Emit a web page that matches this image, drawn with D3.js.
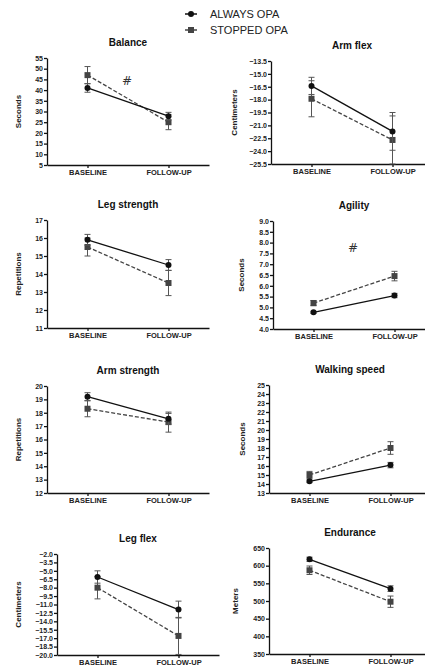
<!DOCTYPE html>
<html lang="en">
<head>
<meta charset="utf-8">
<title>OPA panels</title>
<script src="https://d3js.org/d3.v7.min.js"></script>
<style>
  body { margin: 0; background: #fff; }
  svg text { font-family: "Liberation Sans", Arial, sans-serif; fill: #111; }
  .axis path, .axis line { stroke: #111; stroke-width: 1.3; }
  .axis text { font-size: 7px; font-weight: bold; fill: #222; }
  .xaxis text { font-size: 7.5px; }
  .hash { font-family: "DejaVu Sans", sans-serif; fill: #333; }
</style>
</head>
<body>
<div id="chart"></div>
<script>
"use strict"

// ---- dados ----
const categories = ["BASELINE", "FOLLOW-UP"];
const groups = ["ALWAYS OPA", "STOPPED OPA"];
const titles = ["Balance", "Arm flex", "Leg strength", "Agility", "Arm strength", "Walking speed", "Leg flex", "Endurance"];
const units = ["Seconds", "Centimeters", "Repetitions", "Seconds", "Repetitions", "Seconds", "Centimeters", "Meters"];
const yDomains = [[5, 55], [-25.5, -13.5], [11, 17], [4, 9], [12, 20], [13, 25], [-20, -2], [350, 650]];
const yTicks = [
  [5, 10, 15, 20, 25, 30, 35, 40, 45, 50, 55],
  [-25.5, -24, -22.5, -21, -19.5, -18, -16.5, -15, -13.5],
  [11, 12, 13, 14, 15, 16, 17],
  [4, 4.5, 5, 5.5, 6, 6.5, 7, 7.5, 8, 8.5, 9],
  [12, 13, 14, 15, 16, 17, 18, 19, 20],
  [13, 14, 15, 16, 17, 18, 19, 20, 21, 22, 23, 24, 25],
  [-20, -18.5, -17, -15.5, -14, -12.5, -11, -9.5, -8, -6.5, -5, -3.5, -2],
  [350, 400, 450, 500, 550, 600, 650]
];
const tickFormats = ["d", ".1f", "d", ".1f", "d", "d", ".1f", "d"];
// medias [baseline, follow-up]
const alwaysMean = [[41, 27.8], [-16.4, -21.7], [15.9, 14.5], [4.77, 5.55], [19.2, 17.55], [14.3, 16.1], [-6.1, -11.9], [618, 535]];
const alwaysErr = [[2, 1.8], [1.0, 2.2], [0.3, 0.3], [0.05, 0.1], [0.3, 0.4], [0.15, 0.3], [1.1, 1.5], [6, 8]];
const stoppedMean = [[47, 25], [-17.9, -22.7], [15.5, 13.5], [5.2, 6.45], [18.3, 17.3], [15.0, 18.0], [-8.0, -16.6], [587, 498]];
const stoppedErr = [[4, 3.5], [2.1, 2.8], [0.5, 0.7], [0.12, 0.22], [0.6, 0.75], [0.4, 0.7], [2.0, 3.3], [12, 16]];
// marcas "#" (painel, valor y)
const hashMarks = [[0, 44.3], [3, 7.75]];

// ---- layout ----
const W = 425, H = 670;
// [eixo x, topo, base, x do rotulo y]
const layout = [
  [47, 58, 165, 18], [271, 61, 164, 234],
  [47, 220, 328, 18], [273, 221, 329, 241],
  [47, 386, 493, 18], [269, 385, 493, 242],
  [57, 554, 655, 18], [269, 548, 654, 235]
];
const axisLen = 162;

const svg = d3.select("#chart").append("svg")
  .attr("width", W).attr("height", H);

// legenda
const legend = svg.append("g");
groups.forEach((g, i) => {
  const y = 14 + i * 16;
  legend.append("line").attr("x1", 185).attr("x2", 197).attr("y1", y).attr("y2", y)
    .attr("stroke", i ? "#444" : "#111").attr("stroke-width", 1.5);
  if (i === 0) {
    legend.append("circle").attr("cx", 191).attr("cy", y).attr("r", 3).attr("fill", "#111");
  } else {
    legend.append("rect").attr("x", 188).attr("y", y - 3).attr("width", 6).attr("height", 6).attr("fill", "#444");
  }
  legend.append("text").attr("x", 210).attr("y", y + 4).attr("font-size", 11).style("fill", "#222").text(g);
});

titles.forEach((t, p) => {
  const [ax, top, bot, lx] = layout[p];
  const x = d3.scalePoint().domain(categories).range([ax, ax + axisLen]).padding(0.5);
  const y = d3.scaleLinear().domain(yDomains[p]).range([bot, top]);
  const g = svg.append("g");

  g.append("text").attr("x", ax + 81).attr("y", top - 12)
    .attr("text-anchor", "middle").attr("font-size", 10).attr("font-weight", "bold").text(t);

  g.append("text")
    .attr("transform", "translate(" + lx + "," + ((top + bot) / 2) + ") rotate(-90)")
    .attr("text-anchor", "middle").attr("dy", "0.35em")
    .attr("font-size", 8).attr("font-weight", "bold").style("fill", "#222").text(units[p]);

  g.append("g").attr("class", "axis")
    .attr("transform", "translate(" + ax + ",0)")
    .call(d3.axisLeft(y).tickValues(yTicks[p]).tickFormat(d3.format(tickFormats[p]))
      .tickSize(3).tickSizeOuter(0).tickPadding(1));

  g.append("g").attr("class", "axis xaxis")
    .attr("transform", "translate(0," + bot + ")")
    .call(d3.axisBottom(x).tickSize(3).tickSizeOuter(0).tickPadding(2));

  const series = [
    { mean: stoppedMean[p], err: stoppedErr[p], color: "#444", dash: "4,2", square: true },
    { mean: alwaysMean[p], err: alwaysErr[p], color: "#111", dash: null, square: false }
  ];

  series.forEach(s => {
    // barras de erro
    categories.forEach((c, i) => {
      const cx = x(c), hi = y(s.mean[i] + s.err[i]), lo = y(s.mean[i] - s.err[i]);
      g.append("line").attr("x1", cx).attr("x2", cx).attr("y1", hi).attr("y2", lo)
        .attr("stroke", "#555").attr("stroke-width", 1);
      [hi, lo].forEach(yy => g.append("line").attr("x1", cx - 3).attr("x2", cx + 3)
        .attr("y1", yy).attr("y2", yy).attr("stroke", "#555").attr("stroke-width", 1));
    });
    g.append("path")
      .attr("d", d3.line().x((d, i) => x(categories[i])).y(d => y(d))(s.mean))
      .attr("fill", "none").attr("stroke", s.color).attr("stroke-width", 1.3)
      .attr("stroke-dasharray", s.dash);
    categories.forEach((c, i) => {
      if (s.square) {
        g.append("rect").attr("x", x(c) - 3).attr("y", y(s.mean[i]) - 3)
          .attr("width", 6).attr("height", 6).attr("fill", s.color);
      } else {
        g.append("circle").attr("cx", x(c)).attr("cy", y(s.mean[i])).attr("r", 3).attr("fill", s.color);
      }
    });
  });

  hashMarks.filter(h => h[0] === p).forEach(h => {
    g.append("text").attr("class", "hash").attr("x", ax + 80).attr("y", y(h[1])).attr("dy", "0.35em")
      .attr("text-anchor", "middle").attr("font-size", 12).text("#");
  });
});
</script>
</body>
</html>
